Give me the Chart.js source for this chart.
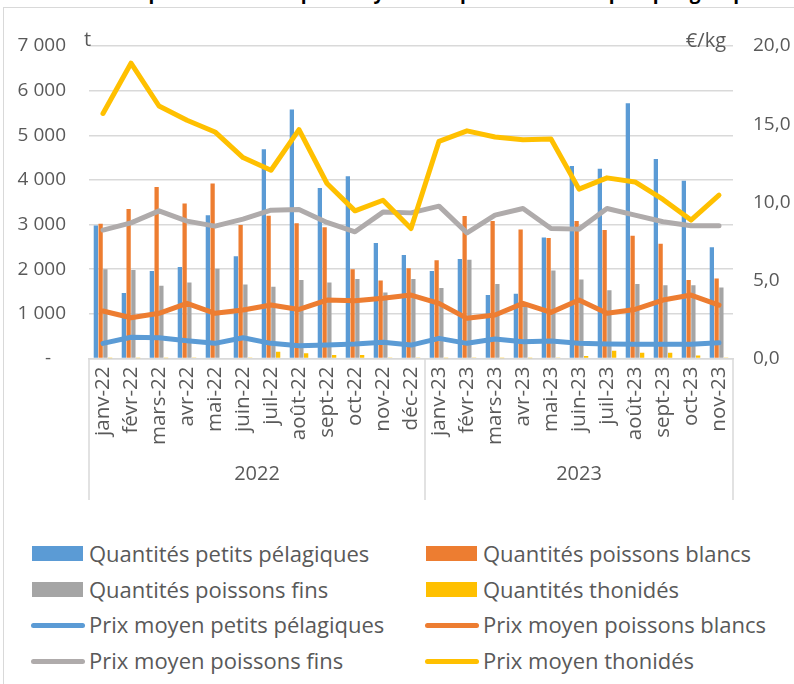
<!DOCTYPE html>
<html><head><meta charset="utf-8">
<script src="https://cdn.jsdelivr.net/npm/chart.js@4.4.0/dist/chart.umd.min.js"></script>
<style>
html,body{margin:0;padding:0;background:#fff;}
body{width:794px;height:684px;overflow:hidden;position:relative;font-family:"Open Sans",sans-serif;}
#frame{position:absolute;left:3px;top:7px;width:820px;height:720px;border:1px solid #D9D9D9;}
#title{position:absolute;left:10px;top:-21px;font:bold 19px "Open Sans",sans-serif;color:#000;white-space:nowrap;}
#wrap{position:absolute;left:0;top:0;width:794px;height:520px;}
.lg{position:absolute;font:22px "Open Sans",sans-serif;color:#595959;white-space:nowrap;line-height:26px;}
.mk{position:absolute;}
</style></head>
<body>
<div id="frame"></div>
<div id="title">Évolution des quantités et des prix moyens des poissons débarqués par groupe</div>
<div id="wrap"><canvas id="c"></canvas></div>
<div id="legend"></div>
<script>
const months = ['janv-22','févr-22','mars-22','avr-22','mai-22','juin-22','juil-22','août-22','sept-22','oct-22','nov-22','déc-22',
  'janv-23','févr-23','mars-23','avr-23','mai-23','juin-23','juil-23','août-23','sept-23','oct-23','nov-23'];
const years = ['2022','2023'];
const yearStartIndex = [0, 12];

const qtyPetitsPelagiques = [2980,1470,1960,2050,3210,2290,4690,5580,3820,4080,2590,2320,1960,2230,1420,1450,2710,4310,4250,5720,4470,3980,2490];
const qtyPoissonsBlancs   = [3020,3350,3840,3470,3920,2990,3200,3030,2940,2000,1750,2020,2200,3190,3080,2890,2700,3080,2880,2750,2570,1760,1790];
const qtyPoissonsFins     = [2000,1980,1630,1700,2010,1660,1610,1760,1700,1780,1480,1780,1580,2210,1670,1160,1970,1770,1530,1670,1640,1640,1590];
const qtyThonides         = [5,5,5,10,15,25,150,115,80,80,10,20,5,10,5,5,10,55,175,130,130,70,10];

const prixPetitsPelagiques = [0.97,1.36,1.33,1.14,0.97,1.33,0.97,0.82,0.86,0.93,1.04,0.86,1.29,0.97,1.25,1.07,1.12,0.97,0.93,0.91,0.91,0.91,1.01];
const prixPoissonsBlancs   = [3.04,2.61,2.89,3.53,2.89,3.10,3.42,3.14,3.74,3.70,3.85,4.06,3.53,2.57,2.78,3.53,2.95,3.74,2.89,3.14,3.74,4.06,3.42];
const prixPoissonsFins     = [8.22,8.68,9.45,8.79,8.47,8.92,9.49,9.54,8.71,8.11,9.37,9.32,9.75,8.04,9.18,9.60,8.32,8.28,9.60,9.18,8.75,8.49,8.49];
const prixThonides         = [15.68,18.90,16.16,15.25,14.50,12.86,12.05,14.65,11.20,9.45,10.13,8.32,13.90,14.57,14.18,14.00,14.05,10.84,11.56,11.30,10.18,8.86,10.45];

const leftTicks = [0,1000,2000,3000,4000,5000,6000,7000];
const rightTicks = [0,5,10,15,20];

const BLUE='#5B9BD5', ORANGE='#ED7D31', GRAY='#A5A5A5', GRAYLINE='#AFABAB', YELLOW='#FFC000';
const TXT='#595959', GRID='#D9D9D9';
const FONT='"Open Sans", sans-serif';

function bar(label, data, color){
  return {type:'bar', label, data, backgroundColor:color, borderWidth:0, yAxisID:'y', order:10,
          barPercentage:0.9, categoryPercentage:0.68};
}
function line(label, data, color, order){
  return {type:'line', label, data, borderColor:color, backgroundColor:color, borderWidth:5,
          pointRadius:0, tension:0, yAxisID:'y1', order, borderCapStyle:'round', borderJoinStyle:'round'};
}
const datasets = [
  bar('Quantités petits pélagiques', qtyPetitsPelagiques, BLUE),
  bar('Quantités poissons blancs', qtyPoissonsBlancs, ORANGE),
  bar('Quantités poissons fins', qtyPoissonsFins, GRAY),
  bar('Quantités thonidés', qtyThonides, YELLOW),
  line('Prix moyen petits pélagiques', prixPetitsPelagiques, BLUE, 4),
  line('Prix moyen poissons blancs', prixPoissonsBlancs, ORANGE, 3),
  line('Prix moyen poissons fins', prixPoissonsFins, GRAYLINE, 2),
  line('Prix moyen thonidés', prixThonides, YELLOW, 1)
];

const extras = {
  id:'extras',
  afterDraw(chart){
    const ctx = chart.ctx, ca = chart.chartArea, x = chart.scales.x;
    ctx.save();
    ctx.strokeStyle = GRID; ctx.lineWidth = 1.5;
    const step = x.getPixelForValue(1) - x.getPixelForValue(0);
    const bounds = [ca.left];
    for (let k=1;k<yearStartIndex.length;k++) bounds.push(x.getPixelForValue(yearStartIndex[k]) - step/2);
    bounds.push(ca.right);
    bounds.forEach(b=>{ ctx.beginPath(); ctx.moveTo(b, ca.bottom); ctx.lineTo(b, 500); ctx.stroke(); });
    ctx.fillStyle = TXT; ctx.font = '20px '+FONT; ctx.textAlign='center'; ctx.textBaseline='middle';
    years.forEach((yv,k)=>{ ctx.fillText(yv, (bounds[k]+bounds[k+1])/2, 474); });
    ctx.textBaseline='alphabetic';
    ctx.textAlign='left'; ctx.fillText('t', ca.left-5, 46);
    ctx.textAlign='right'; ctx.fillText('€/kg', ca.right-7, 47);
    ctx.restore();
  }
};

new Chart(document.getElementById('c'), {
  data:{labels:months, datasets},
  options:{
    responsive:true, maintainAspectRatio:false, animation:false,
    layout:{padding:{top:46,left:0,right:0,bottom:0}},
    plugins:{legend:{display:false}, tooltip:{enabled:false}},
    scales:{
      x:{
        grid:{display:false, drawTicks:false},
        border:{display:true, color:GRID, width:1.5},
        ticks:{autoSkip:false, minRotation:90, maxRotation:90, color:TXT, font:{family:FONT, size:20.5}, padding:8},
        afterFit(s){ s.height = 161.5; }
      },
      y:{
        position:'left', min:0, max:7000,
        afterBuildTicks(s){ s.ticks = leftTicks.map(v=>({value:v})); },
        grid:{color:GRID, lineWidth:1.5, drawTicks:false},
        border:{display:false},
        ticks:{color:TXT, font:{family:FONT, size:19}, padding:23,
          callback:v=> v===0 ? '-   ' : String(v).replace(/\B(?=(\d{3})+(?!\d))/g,' ')},
        afterFit(s){ s.width = 89; }
      },
      y1:{
        position:'right', min:0, max:20,
        afterBuildTicks(s){ s.ticks = rightTicks.map(v=>({value:v})); },
        grid:{display:false, drawTicks:false},
        border:{display:false},
        ticks:{color:TXT, font:{family:FONT, size:19}, padding:20, callback:v=> v.toFixed(1).replace('.',',')},
        afterFit(s){ s.width = 61; }
      }
    }
  },
  plugins:[extras]
});

// HTML legend built from the datasets
const lg = document.getElementById('legend');
datasets.forEach((d,i)=>{
  const col = i%2, row = Math.floor(i/2);
  const cy = 554 + row*35.7;
  const mx = col===0 ? 31 : 425;
  const tx = col===0 ? 89 : 483;
  const m = document.createElement('div'); m.className='mk';
  if (d.type==='bar'){
    m.style.cssText = `left:${mx+1}px;top:${cy-8}px;width:51px;height:15px;background:${d.backgroundColor};`;
  } else {
    m.style.cssText = `left:${mx}px;top:${cy-2.5}px;width:54px;height:5px;border-radius:3px;background:${d.borderColor};`;
  }
  lg.appendChild(m);
  const t = document.createElement('div'); t.className='lg';
  t.style.left = tx+'px'; t.style.top = (cy-14)+'px';
  t.textContent = d.label;
  lg.appendChild(t);
});
</script>
</body></html>
